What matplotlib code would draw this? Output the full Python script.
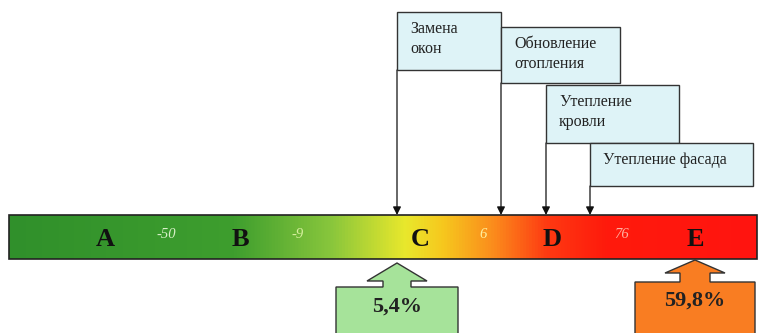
import matplotlib.pyplot as plt
import numpy as np
from matplotlib.colors import LinearSegmentedColormap
from matplotlib.patches import Rectangle, Polygon

plt.rcParams['font.family'] = ['Liberation Serif', 'DejaVu Serif']

# energy classes along the scale
classes = ["A", "B", "C", "D", "E"]
class_x = [105, 240, 420, 552, 695]

# threshold values printed between the classes
thresholds = ["-50", "-9", "6", "76"]
threshold_x = [166, 298, 483, 622]
threshold_colors = ["#d8f0c8", "#d8f0a0", "#fff0a0", "#ffb0a0"]

# measures and where they push the building on the scale
measures = ["Замена\nокон", "Обновление\nотопления", "Утепление\nкровли", "Утепление фасада"]
measure_x = [397, 501, 546, 590]
box_right = [501, 620, 679, 753]
box_top = [12, 27, 85, 143]
box_bottom = [70, 83, 143, 186]

# before / after markers
shares = ["5,4%", "59,8%"]
share_x = [397, 695]
share_colors = ["#a6e39a", "#f97d22"]

bar_left, bar_right = 9, 757
bar_top, bar_bottom = 215, 259

fig = plt.figure(figsize=(7.59, 3.33), dpi=100)
ax = fig.add_axes([0, 0, 1, 1])
ax.set_xlim(0, 759)
ax.set_ylim(333, 0)
ax.axis("off")

# colour scale bar
stops = [(0.0, "#30902b"), (0.30, "#3e9e2e"), (0.43, "#88c63c"),
         (0.53, "#e9e82c"), (0.58, "#f6c81e"), (0.65, "#fb8a1c"),
         (0.72, "#fe3a12"), (0.80, "#ff1a0c"), (1.0, "#ff1410")]
cmap = LinearSegmentedColormap.from_list("scale", stops)
grad = np.linspace(0, 1, 512).reshape(1, -1)
ax.imshow(grad, cmap=cmap, aspect="auto",
          extent=(bar_left, bar_right, bar_bottom, bar_top), zorder=1)
ax.add_patch(Rectangle((bar_left, bar_top), bar_right - bar_left, bar_bottom - bar_top,
                       fill=False, edgecolor="#222222", lw=1.2, zorder=2))

for name, x in zip(classes, class_x):
    ax.text(x, 240, name, ha="center", va="center", fontsize=19,
            fontweight="bold", color="#111111", zorder=3)

for val, x, c in zip(thresholds, threshold_x, threshold_colors):
    ax.text(x, 234, val, ha="center", va="center", fontsize=10.5,
            style="italic", color=c, zorder=3)

# measure boxes with arrows down to the bar
for label, x, r, t, b in zip(measures, measure_x, box_right, box_top, box_bottom):
    ax.add_patch(Rectangle((x, t), r - x, b - t, facecolor="#def3f7",
                           edgecolor="#333333", lw=1.0, zorder=4))
    ax.text(x + 13, t + 9, label, ha="left", va="top", fontsize=11.5,
            linespacing=1.35, color="#222222", zorder=5)
    ax.annotate("", xy=(x, bar_top), xytext=(x, b),
                arrowprops=dict(arrowstyle="-|>", color="#111111", lw=0.9,
                                mutation_scale=12, shrinkA=0, shrinkB=0),
                zorder=3)

# block arrows under the bar
arrow_shapes = [
    dict(tip=263, head_y=281, head_w=30, neck_w=14, box_top=287, box_w=61, text_y=307),
    dict(tip=260, head_y=273, head_w=30, neck_w=15, box_top=282, box_w=60, text_y=301),
]
for text, x, col, s in zip(shares, share_x, share_colors, arrow_shapes):
    pts = [(x, s["tip"]), (x + s["head_w"], s["head_y"]), (x + s["neck_w"], s["head_y"]),
           (x + s["neck_w"], s["box_top"]), (x + s["box_w"], s["box_top"]),
           (x + s["box_w"], 340), (x - s["box_w"], 340), (x - s["box_w"], s["box_top"]),
           (x - s["neck_w"], s["box_top"]), (x - s["neck_w"], s["head_y"]),
           (x - s["head_w"], s["head_y"])]
    ax.add_patch(Polygon(pts, closed=True, facecolor=col, edgecolor="#333333",
                         lw=1.0, zorder=4))
    ax.text(x, s["text_y"], text, ha="center", va="center", fontsize=16,
            fontweight="bold", color="#222222", zorder=5)

fig.savefig("out.png", dpi=100)
